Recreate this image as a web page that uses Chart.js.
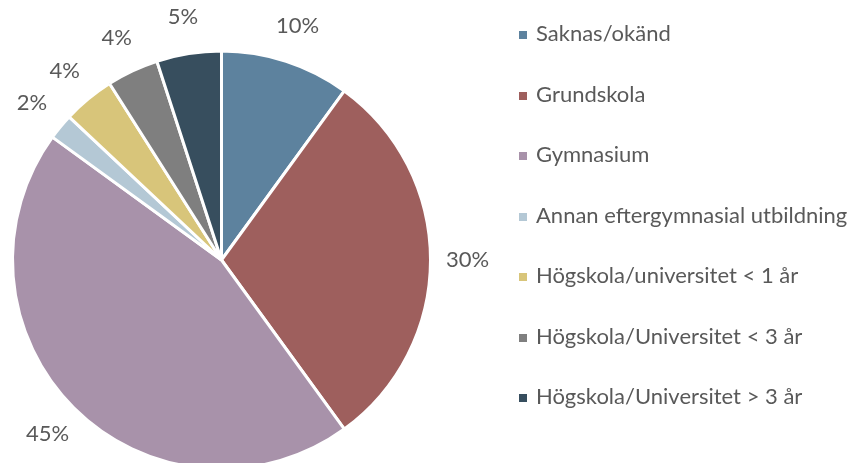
<!DOCTYPE html>
<html>
<head>
<meta charset="utf-8">
<script src="https://cdn.jsdelivr.net/npm/chart.js@4/dist/chart.umd.min.js"></script>
<style>
  html, body { margin: 0; padding: 0; background: #fff; }
  #wrap { position: relative; width: 858px; height: 463px; overflow: hidden; }
  #chart { position: absolute; left: 0; top: 0; }
  #legend { position: absolute; left: 519px; top: 0; font-family: Lato, sans-serif; font-size: 22px; color: #595959; }
  #legend div { position: absolute; white-space: nowrap; height: 26px; line-height: 26px; }
  #legend span { display: inline-block; width: 8px; height: 8px; margin-right: 9px; vertical-align: 2px; }
</style>
</head>
<body>
<div id="wrap">
  <canvas id="chart" width="858" height="480"></canvas>
  <div id="legend"></div>
</div>
<script>
const categories = [
  'Saknas/okänd',
  'Grundskola',
  'Gymnasium',
  'Annan eftergymnasial utbildning',
  'Högskola/universitet < 1 år',
  'Högskola/Universitet < 3 år',
  'Högskola/Universitet > 3 år'
];
const shares = [10, 30, 45, 2, 4, 4, 5];
const colors = ['#5d829e', '#9e5f5d', '#a892aa', '#b4c8d5', '#d8c57a', '#7f7f7f', '#374e5e'];

const legend = document.getElementById('legend');
categories.forEach((name, i) => {
  const item = document.createElement('div');
  const box = document.createElement('span');
  box.style.background = colors[i];
  item.style.top = (20 + i * 60.5) + 'px';
  item.append(box, document.createTextNode(name));
  legend.append(item);
});

const outsideLabels = {
  id: 'outsideLabels',
  afterDatasetsDraw(chart) {
    const ctx = chart.ctx;
    const meta = chart.getDatasetMeta(0);
    ctx.save();
    ctx.font = '22px Lato, sans-serif';
    ctx.fillStyle = '#595959';
    ctx.textAlign = 'center';
    ctx.textBaseline = 'middle';
    meta.data.forEach((arc, i) => {
      const mid = (arc.startAngle + arc.endAngle) / 2;
      const r = arc.outerRadius + 37;
      ctx.fillText(shares[i] + '%', arc.x + Math.cos(mid) * r, arc.y + Math.sin(mid) * r);
    });
    ctx.restore();
  }
};

new Chart(document.getElementById('chart'), {
  type: 'pie',
  data: {
    labels: categories,
    datasets: [{
      data: shares,
      backgroundColor: colors,
      borderColor: '#ffffff',
      borderWidth: 3
    }]
  },
  options: {
    responsive: false,
    animation: false,
    layout: { padding: { top: 49, left: 11, right: 426, bottom: 9 } },
    plugins: {
      legend: { display: false },
      tooltip: { enabled: false }
    }
  },
  plugins: [outsideLabels]
});
</script>
</body>
</html>
